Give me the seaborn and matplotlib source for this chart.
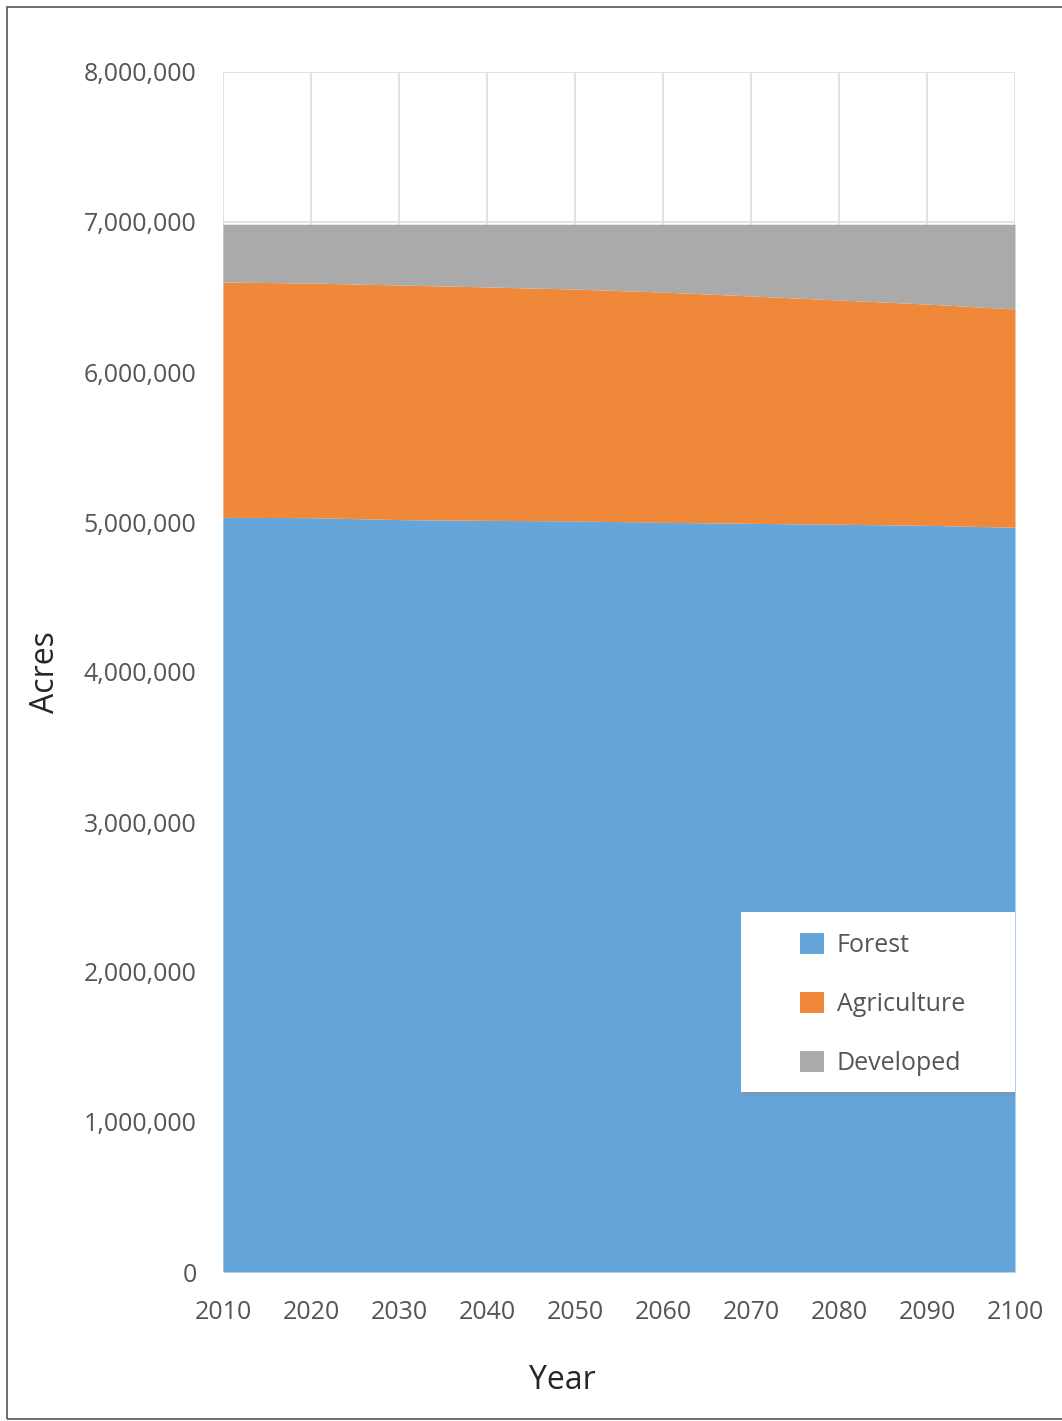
import numpy as np
import pandas as pd
import seaborn as sns
import matplotlib.pyplot as plt
from matplotlib.patches import Rectangle
from matplotlib.ticker import FuncFormatter

# values (acres)
years = [2010, 2020, 2030, 2040, 2050, 2060, 2070, 2080, 2090, 2100]
forest = [5031000, 5029000, 5016000, 5011000, 5007000, 4998000, 4991000, 4985000, 4978000, 4965000]
agriculture = [1569000, 1564000, 1564000, 1556000, 1546000, 1535000, 1516000, 1495000, 1475000, 1455000]
developed = [385000, 392000, 405000, 418000, 432000, 452000, 478000, 505000, 532000, 565000]
labels = ["Forest", "Agriculture", "Developed"]
colors = ["#66a5da", "#f0883a", "#abaaaa"]

df = pd.DataFrame({"Year": years, "Forest": forest,
                   "Agriculture": agriculture, "Developed": developed})

sns.set_style("white")
plt.rcParams["font.family"] = ["Open Sans", "DejaVu Sans"]

fig = plt.figure(figsize=(10.62, 14.21), dpi=100)
ax = fig.add_axes([223 / 1062, 1 - 1272 / 1421, 792 / 1062, 1200 / 1421])

# outer frame of the picture
fig.patches.append(Rectangle((7 / 1062, 2 / 1421), 1.0, 1 - 9 / 1421,
                             transform=fig.transFigure, fill=False,
                             edgecolor="#555555", linewidth=1.2))

ax.stackplot(df["Year"], df["Forest"], df["Agriculture"], df["Developed"],
             labels=labels, colors=colors, linewidth=0, zorder=3)

ax.set_xlim(2010, 2100)
ax.set_ylim(0, 8000000)
ax.set_xticks(years)
ax.set_yticks(np.arange(0, 8000001, 1000000))
ax.yaxis.set_major_formatter(FuncFormatter(lambda v, p: f"{int(v):,}"))
ax.grid(True, color="#dddddd", linewidth=1.2, zorder=0)
ax.set_axisbelow(True)
for s in ax.spines.values():
    s.set_visible(False)
ax.tick_params(axis="both", length=0, labelsize=18, labelcolor="#555555")
ax.tick_params(axis="x", pad=20)
ax.tick_params(axis="y", pad=19)

ax.set_ylabel("Acres", fontsize=23, labelpad=16)
ax.set_xlabel("Year", fontsize=23)
ax.xaxis.set_label_coords((562 - 223) / 792, -0.077)

# legend box with a faint shadow
shadow = Rectangle((0.654 + 0.003, 0.15 - 0.003), 0.346, 0.15, transform=ax.transAxes,
                   facecolor="#8a8a8a", alpha=0.35, edgecolor="none", zorder=4)
box = Rectangle((0.654, 0.15), 0.346, 0.15, transform=ax.transAxes,
                facecolor="white", edgecolor="none", zorder=4.5)
ax.add_patch(shadow)
ax.add_patch(box)

leg = ax.legend(loc="center left", bbox_to_anchor=(0.729, 0.223), fontsize=18,
                frameon=False, handlelength=0.95, handleheight=0.95,
                labelspacing=1.35, borderpad=0, borderaxespad=0, handletextpad=0.5)
for t in leg.get_texts():
    t.set_color("#555555")
for h in leg.legend_handles:
    h.set_linewidth(0)
leg.set_zorder(5)

fig.savefig("out.png", dpi=100)
